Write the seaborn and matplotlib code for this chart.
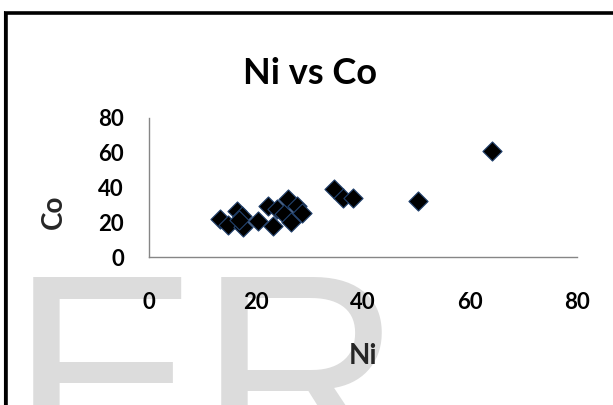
import matplotlib
matplotlib.use("Agg")
import matplotlib.pyplot as plt
from matplotlib.lines import Line2D
import pandas as pd
import seaborn as sns

# Nickel vs cobalt concentrations
ni = [13.2, 14.8, 16.4, 17.3, 17.5, 16.8, 20.4, 22.2, 23.1, 24.0,
      25.2, 26.0, 26.6, 27.6, 28.6, 34.5, 36.3, 38.2, 50.2, 64.2]
co = [21.8, 18.6, 26.5, 23.8, 17.3, 21.5, 20.6, 29.6, 17.8, 27.5,
      24.5, 33.5, 20.0, 29.2, 25.3, 39.0, 33.8, 33.8, 32.4, 61.2]
axis_ticks = [0, 20, 40, 60, 80]

df = pd.DataFrame({"Ni": ni, "Co": co})

sns.set_style("white")
plt.rcParams["font.family"] = ["Lato", "DejaVu Sans"]
plt.rcParams["font.weight"] = "bold"

W, H = 613, 405
fig = plt.figure(figsize=(W / 100, H / 100), dpi=100)
fig.patch.set_facecolor("white")

def fx(px):
    return px / W

def fy(py):
    return 1 - py / H

# background watermark letters
fig.text(fx(10), fy(472), "ER", fontsize=204, color="#dcdcdc",
         family="Liberation Sans", fontweight="normal",
         ha="left", va="baseline", zorder=-5)

ax = fig.add_axes([fx(149), fy(257), 428 / W, 139 / H])
ax.set_facecolor("none")

sns.scatterplot(data=df, x="Ni", y="Co", marker="D", s=95, color="black",
                edgecolor="#23436f", linewidth=0.8, ax=ax, zorder=3,
                clip_on=False)

ax.set_xlim(0, 80)
ax.set_ylim(0, 80)
ax.set_xticks(axis_ticks)
ax.set_yticks(axis_ticks)
ax.set_xticklabels([str(t) for t in axis_ticks])
ax.set_yticklabels([str(t) for t in axis_ticks])

for side in ("top", "right"):
    ax.spines[side].set_visible(False)
for side in ("left", "bottom"):
    ax.spines[side].set_color("#868686")
    ax.spines[side].set_linewidth(1.0)

ax.tick_params(axis="both", direction="out", length=6, width=1.0,
               color="#868686", labelsize=16, labelcolor="black")
ax.tick_params(axis="x", pad=19)
ax.tick_params(axis="y", pad=12)
for lbl in ax.get_xticklabels() + ax.get_yticklabels():
    lbl.set_fontweight("bold")

ax.set_xlabel("Ni", fontsize=20, fontweight="bold")
ax.set_ylabel("Co", fontsize=20, fontweight="bold")
ax.xaxis.set_label_coords((363 - 149) / 428, (257 - 356) / 139)
ax.xaxis.label.set_va("center")
ax.yaxis.set_label_coords((54 - 149) / 428, (257 - 212) / 139)
ax.yaxis.label.set_va("center")

fig.text(fx(310), fy(84), "Ni vs Co", fontsize=26, fontweight="bold",
         ha="center", va="baseline", color="black")

# chart border
fig.add_artist(Line2D([fx(6), fx(6), fx(W + 5)], [fy(H + 5), fy(13), fy(13)],
                      transform=fig.transFigure, color="black",
                      linewidth=2.6, solid_joinstyle="miter"))
fig.add_artist(Line2D([fx(3.5), fx(3.5)], [fy(H + 5), fy(11)],
                      transform=fig.transFigure, color="black",
                      linewidth=0.8))

fig.savefig("out.png", dpi=100)
